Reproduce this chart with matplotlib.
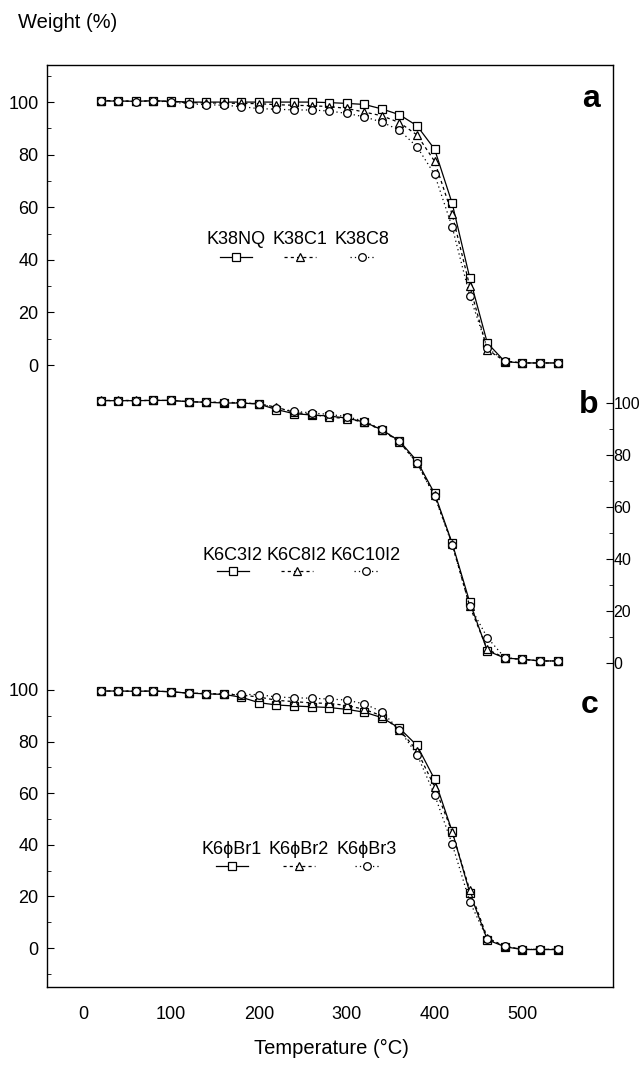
import matplotlib
matplotlib.use("Agg")
import matplotlib.pyplot as plt
from matplotlib.lines import Line2D

plt.rcParams['font.family'] = ['Liberation Sans', 'DejaVu Sans']

# temperature (C) of every reading
temps = list(range(20, 541, 20))

# panel a
k38nq = [100.4, 100.4, 100.3, 100.5, 100.3, 100.0, 100.0, 100.0, 100.0, 100.0, 100.0, 100.0, 100.0,
         99.8, 99.5, 99.1, 97.4, 95.2, 91.0, 82.1, 61.5, 33.2, 8.4, 1.3, 0.8, 0.8, 0.8]
k38c1 = [100.6, 100.5, 100.3, 100.5, 100.2, 99.8, 99.7, 99.6, 99.5, 99.4, 99.0, 98.8, 98.6,
         98.3, 97.6, 96.2, 94.8, 92.2, 87.5, 77.5, 57.3, 30.0, 5.8, 1.5, 0.8, 0.8, 0.8]
k38c8 = [100.5, 100.4, 100.2, 100.5, 100.0, 99.4, 99.0, 98.8, 98.3, 97.5, 97.3, 97.0, 97.0,
         96.6, 95.7, 94.4, 92.4, 89.3, 83.0, 72.5, 52.5, 26.4, 6.5, 1.5, 0.8, 0.8, 0.8]

# panel b
k6c3i2 = [100.9, 100.9, 100.9, 101.0, 101.0, 100.5, 100.3, 100.0, 100.0, 99.6, 97.5, 95.9, 95.4,
          95.0, 94.2, 92.7, 89.7, 85.4, 77.7, 65.2, 46.1, 23.4, 4.7, 1.9, 1.5, 0.8, 0.8]
k6c8i2 = [101.0, 101.0, 101.0, 101.0, 101.0, 100.5, 100.3, 100.2, 100.0, 99.7, 98.4, 96.4, 95.6,
          94.6, 94.0, 92.6, 89.5, 85.0, 77.0, 64.5, 45.8, 21.8, 5.3, 1.9, 1.4, 0.8, 0.8]
k6c10i2 = [100.9, 100.9, 100.9, 101.0, 101.0, 100.5, 100.3, 100.3, 100.1, 99.8, 98.0, 96.8, 96.2,
           95.6, 94.8, 93.0, 89.9, 85.2, 76.8, 64.2, 45.5, 22.0, 9.8, 2.0, 1.5, 0.8, 0.8]

# panel c
k6br1 = [99.6, 99.6, 99.5, 99.6, 99.3, 98.8, 98.5, 98.3, 97.2, 95.1, 94.2, 93.8, 93.5,
         93.2, 92.5, 91.4, 89.3, 85.2, 78.5, 65.4, 45.2, 21.5, 3.2, 0.5, -0.6, -0.6, -0.6]
k6br2 = [99.6, 99.6, 99.5, 99.6, 99.3, 98.8, 98.6, 98.4, 98.0, 97.3, 96.0, 95.5, 95.0,
         94.8, 94.0, 92.5, 90.0, 84.6, 76.5, 62.5, 45.0, 22.5, 4.0, 0.6, -0.5, -0.5, -0.5]
k6br3 = [99.6, 99.6, 99.5, 99.6, 99.3, 98.8, 98.6, 98.4, 98.3, 98.2, 97.3, 97.0, 96.8,
         96.5, 96.1, 94.6, 91.6, 84.5, 75.0, 59.4, 40.3, 18.0, 3.5, 0.8, -0.5, -0.5, -0.5]

names_a = ['K38NQ', 'K38C1', 'K38C8']
names_b = ['K6C3I2', 'K6C8I2', 'K6C10I2']
names_c = ['K6\u03d5Br1', 'K6\u03d5Br2', 'K6\u03d5Br3']

x_ticks = [0, 100, 200, 300, 400, 500]
y_ticks = [0, 20, 40, 60, 80, 100]

W, H = 640, 1073
styles = [dict(ls='-', marker='s'),
          dict(ls=(0, (2.5, 2.5)), marker='^'),
          dict(ls=(0, (1, 2.5)), marker='o')]


def fx(x):
    return x / W


def fy(y):
    return 1 - y / H


fig = plt.figure(figsize=(6.4, 10.73), dpi=100)
left, right, top, bottom = 47, 613, 65, 987
rect = [fx(left), fy(bottom), fx(right - left), (bottom - top) / H]

ax_a = fig.add_axes(rect)
ax_b = fig.add_axes(rect, sharex=ax_a)
ax_c = fig.add_axes(rect, sharex=ax_a)
for ax in (ax_b, ax_c):
    ax.patch.set_visible(False)
    for s in ax.spines.values():
        s.set_visible(False)
for s in ax_a.spines.values():
    s.set_linewidth(1.0)

ax_a.set_xlim(-41, 603)
# vertical ranges so that each panel lands on its own band of the frame
ax_a.set_ylim(-236.5, 114.1)
ax_b.set_ylim(-124.6, 230.0)
ax_c.set_ylim(-15.1, 342.2)


def draw_panel(ax, series):
    for vals, st in zip(series, styles):
        ax.plot(temps, vals, color='black', lw=0.9, ls=st['ls'], marker=st['marker'],
                ms=5.5, mfc='white', mec='black', mew=0.9)


draw_panel(ax_a, [k38nq, k38c1, k38c8])
draw_panel(ax_b, [k6c3i2, k6c8i2, k6c10i2])
draw_panel(ax_c, [k6br1, k6br2, k6br3])

# x axis: labels only
ax_a.set_xticks(x_ticks)
ax_a.tick_params(axis='x', length=0, pad=14, labelsize=13)
for ax in (ax_b, ax_c):
    ax.tick_params(axis='x', bottom=False, labelbottom=False)

minor = [10, 30, 50, 70, 90]
ax_a.set_yticks(y_ticks)
ax_a.set_yticks(minor + [110], minor=True)
ax_a.tick_params(axis='y', which='both', direction='in', labelsize=13, pad=6)
ax_a.tick_params(axis='y', which='major', length=5)
ax_a.tick_params(axis='y', which='minor', length=3)

ax_c.set_yticks(y_ticks)
ax_c.set_yticks([-10] + minor, minor=True)
ax_c.tick_params(axis='y', which='both', direction='in', labelsize=13, pad=6)
ax_c.tick_params(axis='y', which='major', length=5)
ax_c.tick_params(axis='y', which='minor', length=3)

ax_b.yaxis.tick_right()
ax_b.set_yticks(y_ticks)
ax_b.set_yticks(minor, minor=True)
ax_b.tick_params(axis='y', which='both', direction='in', labelsize=11.5, pad=0.3,
                 left=False, labelleft=False, right=True, labelright=True)
ax_b.tick_params(axis='y', which='major', length=5)
ax_b.tick_params(axis='y', which='minor', length=3)


def draw_key(names, centers, y_text, y_line):
    half = [16, 16, 12]
    for name, cx, st, h in zip(names, centers, styles, half):
        fig.text(fx(cx), fy(y_text), name, ha='center', va='center', fontsize=13)
        fig.add_artist(Line2D([fx(cx - h), fx(cx), fx(cx + h)], [fy(y_line)] * 3,
                              transform=fig.transFigure, color='black', lw=0.9, ls=st['ls'],
                              marker=st['marker'], markevery=[1], ms=5.5, mfc='white',
                              mec='black', mew=0.9))


draw_key(names_a, [236, 300, 362], 240, 257)
draw_key(names_b, [233, 297, 366], 555, 571)
draw_key(names_c, [232, 299, 367], 850, 866)

for lab, (x, y) in zip(['a', 'b', 'c'], [(591, 99), (589, 405), (590, 705)]):
    fig.text(fx(x), fy(y), lab, ha='center', va='center', fontsize=23, fontweight='bold')

fig.text(fx(18), fy(23), 'Weight (%)', ha='left', va='center', fontsize=14.5)
fig.text(fx(331), fy(1048), 'Temperature (\u00b0C)', ha='center', va='center', fontsize=14.5)

fig.savefig('out.png', dpi=100)
